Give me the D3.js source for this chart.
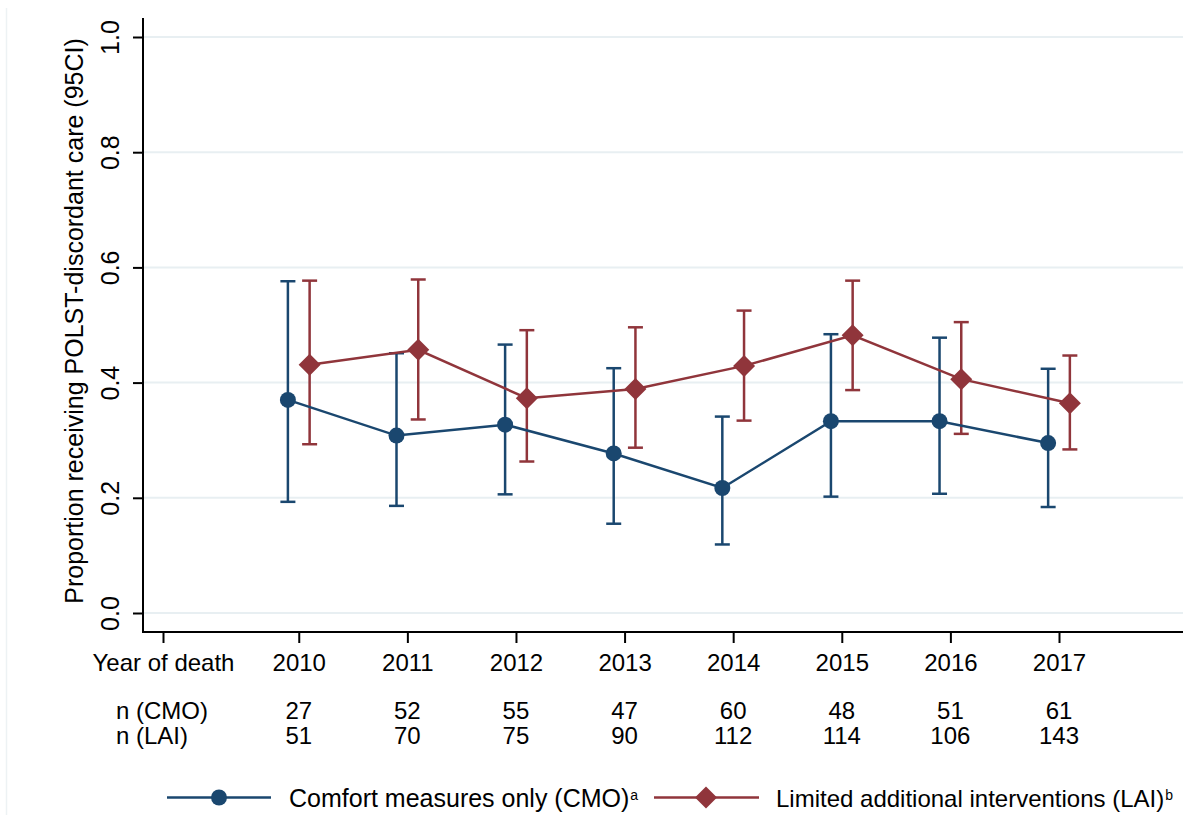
<!DOCTYPE html>
<html>
<head>
<meta charset="utf-8">
<script src="https://cdn.jsdelivr.net/npm/d3@7"></script>
<style>
  html, body { margin: 0; padding: 0; background: #ffffff; }
  svg { display: block; }
  text { font-family: "Liberation Sans", Arial, Helvetica, sans-serif; fill: #000; }
</style>
</head>
<body>
<svg id="chart" width="1183" height="815"></svg>
<script>
// Year of death and per-year proportions receiving POLST-discordant care (95% CI)
const years = [2010, 2011, 2012, 2013, 2014, 2015, 2016, 2017];

const cmoEst = [0.370, 0.308, 0.327, 0.277, 0.217, 0.333, 0.333, 0.295];
const cmoLo  = [0.193, 0.186, 0.206, 0.155, 0.119, 0.202, 0.207, 0.184];
const cmoHi  = [0.576, 0.451, 0.466, 0.425, 0.341, 0.484, 0.478, 0.424];

const laiEst = [0.431, 0.457, 0.373, 0.389, 0.429, 0.482, 0.406, 0.364];
const laiLo  = [0.293, 0.336, 0.263, 0.287, 0.334, 0.387, 0.311, 0.284];
const laiHi  = [0.577, 0.579, 0.491, 0.496, 0.525, 0.577, 0.505, 0.447];

const nCMO = [27, 52, 55, 47, 60, 48, 51, 61];
const nLAI = [51, 70, 75, 90, 112, 114, 106, 143];

const yTicks = [0, 0.2, 0.4, 0.6, 0.8, 1.0];
const rowLabels = ["Year of death", "n (CMO)", "n (LAI)"];
const legendLabels = ["Comfort measures only (CMO)", "Limited additional interventions (LAI)"];
const legendSup = ["a", "b"];

const NAVY = "#1a476f";
const MAROON = "#90353b";
const GRID = "#e8eff2";
const FS = 24;      // x-axis labels and sample-size rows
const FS_BIG = 25;  // y-axis title and y tick labels

const W = 1183, H = 815;
const svg = d3.select("#chart");

// Scales: the x axis is a year scale, with a labelled slot just left of 2010 for the row header
const labelSlot = 2008.75;
const x = d3.scaleLinear().domain([labelSlot, 2017]).range([163, 1059]);
const y = d3.scaleLinear().domain([0, 1]).range([613, 37]);
const axisLeftX = 143, axisBottomY = 632, axisTopY = 18;
const offset = 0.1; // CMO drawn just left of each year, LAI just right

// faint outer frame edge on the left
svg.append("line")
  .attr("x1", 6.5).attr("x2", 6.5).attr("y1", 8).attr("y2", H)
  .attr("stroke", "#edf2f4").attr("stroke-width", 1.5);

// Horizontal gridlines
svg.append("g").selectAll("line").data(yTicks).join("line")
  .attr("x1", axisLeftX).attr("x2", W)
  .attr("y1", d => y(d)).attr("y2", d => y(d))
  .attr("stroke", GRID).attr("stroke-width", 2);

// Y axis
const yAxis = svg.append("g").attr("transform", `translate(${axisLeftX},0)`)
  .call(d3.axisLeft(y).tickValues(yTicks).tickSize(10).tickFormat(d3.format(".1f")));
yAxis.select(".domain").remove();
yAxis.selectAll(".tick line").attr("stroke", "#000").attr("stroke-width", 2);
yAxis.selectAll(".tick text")
  .attr("x", null).attr("dy", null)
  .attr("transform", "translate(-24,0) rotate(-90)")
  .attr("text-anchor", "middle")
  .style("font-size", FS_BIG + "px")
  .style("font-family", "Liberation Sans, Arial, sans-serif");
svg.append("line")
  .attr("x1", axisLeftX).attr("x2", axisLeftX).attr("y1", axisTopY).attr("y2", axisBottomY + 1)
  .attr("stroke", "#000").attr("stroke-width", 2);

// Y axis title
svg.append("text")
  .attr("transform", `translate(83,${(axisTopY + axisBottomY) / 2 - 4}) rotate(-90)`)
  .attr("text-anchor", "middle")
  .style("font-size", FS_BIG + "px")
  .text("Proportion receiving POLST-discordant care (95CI)");

// X axis
const xAxis = svg.append("g").attr("transform", `translate(0,${axisBottomY})`)
  .call(d3.axisBottom(x).tickValues([labelSlot, ...years]).tickSize(11)
    .tickFormat(d => d === labelSlot ? rowLabels[0] : String(d)));
xAxis.select(".domain").remove();
xAxis.selectAll(".tick line").attr("stroke", "#000").attr("stroke-width", 2);
xAxis.selectAll(".tick text")
  .attr("y", 39).attr("dy", null)
  .style("font-size", FS + "px")
  .style("font-family", "Liberation Sans, Arial, sans-serif");
svg.append("line")
  .attr("x1", axisLeftX - 1).attr("x2", W).attr("y1", axisBottomY).attr("y2", axisBottomY)
  .attr("stroke", "#000").attr("stroke-width", 2);

// Sample-size rows under the axis
const rows = [{ label: rowLabels[1], vals: nCMO, yb: 719 }, { label: rowLabels[2], vals: nLAI, yb: 744 }];
rows.forEach(r => {
  svg.append("text").attr("x", 116).attr("y", r.yb).style("font-size", FS + "px").text(r.label);
  svg.append("g").selectAll("text").data(r.vals).join("text")
    .attr("x", (d, i) => x(years[i])).attr("y", r.yb)
    .attr("text-anchor", "middle").style("font-size", FS + "px")
    .text(d => d);
});

// Series
const series = [
  { est: cmoEst, lo: cmoLo, hi: cmoHi, color: NAVY, dx: -offset, shape: "circle" },
  { est: laiEst, lo: laiLo, hi: laiHi, color: MAROON, dx: offset, shape: "diamond" }
];
const capHalf = 7.5;
const diamond = (cx, cy, r) => `M${cx},${cy - r}L${cx + r},${cy}L${cx},${cy + r}L${cx - r},${cy}Z`;

series.forEach(s => {
  const g = svg.append("g");
  const pts = years.map((yr, i) => ({ xv: yr + s.dx, e: s.est[i], lo: s.lo[i], hi: s.hi[i] }));
  // CI bars with caps
  const bars = g.append("g").attr("stroke", s.color).attr("stroke-width", 2.5).attr("fill", "none");
  bars.selectAll("line.v").data(pts).join("line").attr("class", "v")
    .attr("x1", d => x(d.xv)).attr("x2", d => x(d.xv))
    .attr("y1", d => y(d.lo)).attr("y2", d => y(d.hi));
  bars.selectAll("line.hi").data(pts).join("line").attr("class", "hi")
    .attr("x1", d => x(d.xv) - capHalf).attr("x2", d => x(d.xv) + capHalf)
    .attr("y1", d => y(d.hi)).attr("y2", d => y(d.hi));
  bars.selectAll("line.lo").data(pts).join("line").attr("class", "lo")
    .attr("x1", d => x(d.xv) - capHalf).attr("x2", d => x(d.xv) + capHalf)
    .attr("y1", d => y(d.lo)).attr("y2", d => y(d.lo));
  s.pts = pts;
});

series.forEach(s => {
  const g = svg.append("g");
  g.append("path").datum(s.pts)
    .attr("d", d3.line().x(d => x(d.xv)).y(d => y(d.e)))
    .attr("fill", "none").attr("stroke", s.color).attr("stroke-width", 2.5);
  if (s.shape === "circle") {
    g.selectAll("circle").data(s.pts).join("circle")
      .attr("cx", d => x(d.xv)).attr("cy", d => y(d.e)).attr("r", 8)
      .attr("fill", s.color);
  } else {
    g.selectAll("path.mk").data(s.pts).join("path").attr("class", "mk")
      .attr("d", d => diamond(x(d.xv), y(d.e), 11))
      .attr("fill", s.color);
  }
});

// Legend
const legY = 797.5;
const legendItems = [
  { x1: 167, x2: 271, mx: 219, tx: 289, fs: 25, color: NAVY, shape: "circle" },
  { x1: 654, x2: 759, mx: 706, tx: 776, fs: 24, color: MAROON, shape: "diamond" }
];
legendItems.forEach((it, i) => {
  svg.append("line").attr("x1", it.x1).attr("x2", it.x2).attr("y1", legY).attr("y2", legY)
    .attr("stroke", it.color).attr("stroke-width", 2.5);
  if (it.shape === "circle") {
    svg.append("circle").attr("cx", it.mx).attr("cy", legY).attr("r", 8).attr("fill", it.color);
  } else {
    svg.append("path").attr("d", diamond(it.mx, legY, 11)).attr("fill", it.color);
  }
  const t = svg.append("text").attr("x", it.tx).attr("y", 806.5).style("font-size", it.fs + "px");
  t.append("tspan").text(legendLabels[i]);
  t.append("tspan").attr("dx", 1).attr("dy", -6.5).style("font-size", "14px").text(legendSup[i]);
});
</script>
</body>
</html>
